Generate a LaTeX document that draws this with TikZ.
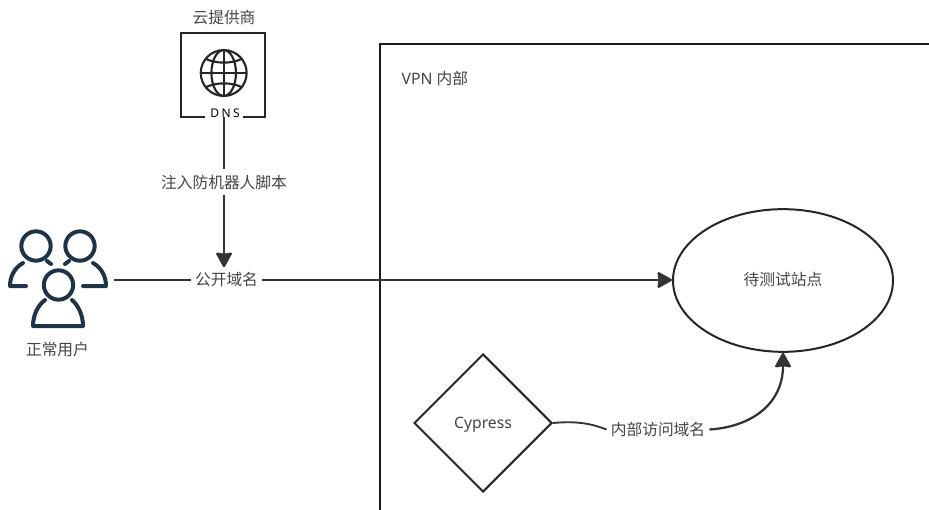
\documentclass[tikz,border=0pt]{standalone}
\usepackage{fontspec}
\setmainfont{Noto Sans}
\newfontfamily\cjk{Noto Sans CJK SC}
\usetikzlibrary{arrows.meta,shapes.geometric}
\definecolor{Tinta}{HTML}{333333}
\definecolor{Texto}{HTML}{444444}
\definecolor{Marino}{HTML}{1F3347}

\begin{document}
\begin{tikzpicture}[
  x=0.75pt,y=-0.75pt,
  every node/.style={font=\fontsize{11.8}{14}\selectfont,text=Texto},
  flow/.style={-{Stealth[length=12pt,width=13pt,inset=1pt,round]},line width=1.7pt,draw=Tinta},
  link/.style={line width=1.4pt,draw=Tinta},
  etiqueta/.style={font=\fontsize{11.8}{14}\cjk,inner xsep=3pt,inner ysep=4pt},
  figura/.style={draw=black!85,line width=1.5pt,text=Texto},
  icono/.style={draw=Marino,line width=3pt,line cap=round,line join=round},
  globo/.style={draw=black!85,line width=1.6pt}
]
  \useasboundingbox (0,0) rectangle (929,510);

  % Zona interior de la VPN, abierta por la derecha y por abajo.
  \draw[line width=1.5pt,draw=black!90] (929,44) -- (380,44) -- (380,510);
  \node[anchor=west] (vpn) at (397,79) {VPN {\cjk 内部}};

  % Proveedor con el globo y el rótulo DNS.
  \node[etiqueta] (proveedor) at (224,18) {云提供商};
  \coordinate (dns) at (224,117);
  \draw[line width=1.5pt,draw=black!85] (205,117) -- (181,117) -- (181,33)
    -- (265,33) -- (265,117) -- (243,117);
  \node[font=\fontsize{9}{10}\selectfont\addfontfeatures{LetterSpace=20},text=black,inner sep=0pt] (dnstexto) at (225,113) {DNS};
  \draw[globo] (223.7,73) circle[radius=17.2pt];
  \draw[globo] (223.7,73) ellipse[x radius=9.2pt,y radius=17.2pt];
  \draw[globo] (223.7,50) -- (223.7,96);
  \draw[globo] (200.7,73) -- (246.7,73);
  \draw[globo] (205,58.5) .. controls (216,64) and (232,64) .. (242.5,58.5);
  \draw[globo] (205,87.5) .. controls (216,82) and (232,82) .. (242.5,87.5);

  % Grupo de usuarios.
  \draw[icono] (36,246) circle[radius=11pt];
  \draw[icono] (80,246) circle[radius=11pt];
  \draw[icono] (58.5,285) circle[radius=11pt];
  \draw[icono] (23,263) .. controls (14,268) and (10,277) .. (10,286) -- (26,286);
  \draw[icono] (47,261) -- (51,264);
  \draw[icono] (93,263) .. controls (102,268) and (106,277) .. (106,286) -- (83,286);
  \draw[icono] (69,261) -- (65,264);
  \draw[icono] (45,300) .. controls (38,305) and (33,315) .. (33,326) -- (83,326)
    .. controls (83,315) and (78,305) .. (72,300);
  \coordinate (usuarios) at (114,280);
  \node[etiqueta] (normal) at (57.5,350) {正常用户};

  % Nodos principales.
  \node[figura,ellipse,minimum width=165pt,minimum height=107pt,inner sep=0pt] (sitio) at (783,280.5) {};
  \node[etiqueta] (sitiotexto) at (783,280) {待测试站点};
  \node[figura,diamond,minimum size=103.5pt,inner sep=0pt,text depth=0pt] (cypress) at (483,423) {Cypress};

  % Etiquetas sobre las conexiones.
  \node[etiqueta] (script) at (224,182) {注入防机器人脚本};
  \node[etiqueta] (publico) at (226.5,280) {公开域名};
  \node[etiqueta] (interno) at (658,429.5) {内部访问域名};

  % Conexiones.
  \draw[link] (dns) -- (script);
  \draw[flow] (script) -- (script |- publico.north);
  \draw[link] (usuarios) -- (publico);
  \draw[flow] (publico) -- (publico -| sitio.west);
  \draw[link] (cypress.east) .. controls (575,421) and (590,423) .. (interno.west);
  \draw[flow] (interno.east) .. controls (750,427) and (783,405) .. (sitio.south);
\end{tikzpicture}
\end{document}
